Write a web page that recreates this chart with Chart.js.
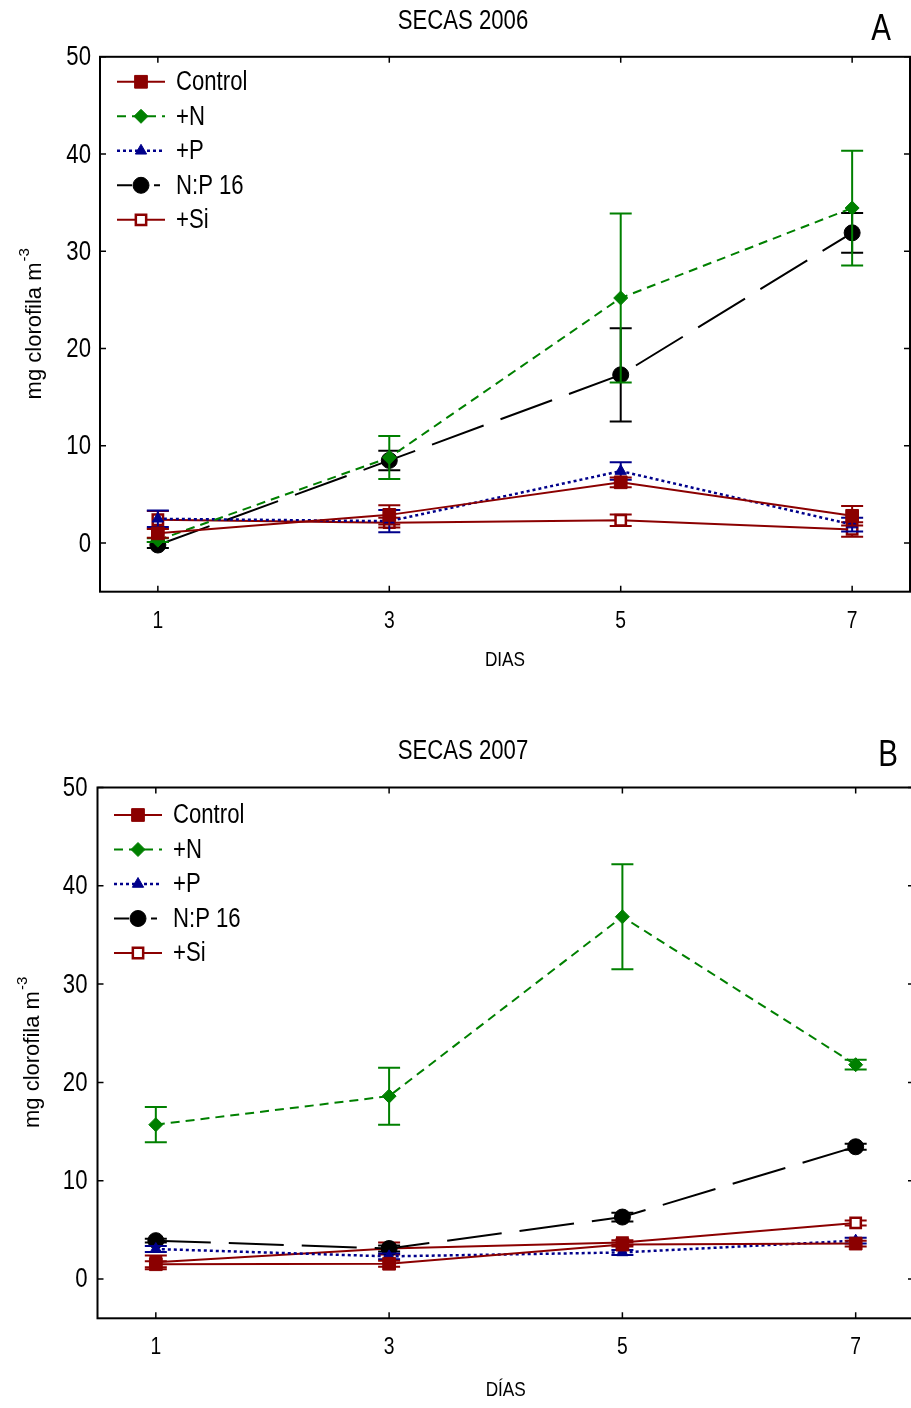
<!DOCTYPE html>
<html lang="es">
<head>
<meta charset="utf-8">
<title>Clorofila - SECAS 2006 y 2007</title>
<script src="https://cdn.jsdelivr.net/npm/chart.js@4.4.1/dist/chart.umd.min.js"></script>
<style>
  html, body { margin: 0; padding: 0; background: #fff; overflow: hidden; }
  #hoja { position: relative; width: 911px; height: 1408px; overflow: hidden; }
  #graficoA { position: absolute; left: 0; top: 0; }
  #graficoB { position: absolute; left: 0; top: 704px; }
</style>
</head>
<body>
<div id="hoja">
  <canvas id="graficoA" width="911" height="704"></canvas>
  <canvas id="graficoB" width="916" height="704"></canvas>
</div>
<script>
// Eje X (días) y eje Y (mg clorofila m-3)
const dias = [1, 3, 5, 7];
const ticksY = [0, 10, 20, 30, 40, 50];
const tratamientos = ['Control', '+N', '+P', 'N:P 16', '+Si'];

// SECAS 2006: medias y error
const control2006 = [1.0, 2.9, 6.25, 2.8];
const control2006Err = [0.45, 1.0, 0.5, 1.0];
const n2006 = [0.3, 8.8, 25.2, 34.45];
const n2006Err = [0.2, 2.2, 8.7, 5.9];
const p2006 = [2.5, 2.25, 7.4, 1.9];
const p2006Err = [0.85, 1.15, 0.9, 0.7];
const np2006 = [-0.2, 8.5, 17.3, 31.9];
const np2006Err = [0.3, 1.0, 4.8, 2.05];
const si2006 = [2.4, 2.1, 2.35, 1.4];
const si2006Err = [0.9, 0.5, 0.6, 0.75];

// SECAS 2007: medias y error
const control2007 = [1.5, 1.55, 3.5, 3.6];
const control2007Err = [0.3, 0.3, 0.2, 0.3];
const n2007 = [15.7, 18.6, 36.85, 21.8];
const n2007Err = [1.8, 2.9, 5.35, 0.5];
const p2007 = [3.05, 2.3, 2.7, 3.9];
const p2007Err = [0.3, 0.3, 0.25, 0.3];
const np2007 = [3.9, 3.1, 6.3, 13.45];
const np2007Err = [0.2, 0.3, 0.45, 0.3];
const si2007 = [1.7, 3.1, 3.7, 5.7];
const si2007Err = [0.7, 0.6, 0.25, 0.25];

const FUENTE = '"Liberation Sans", Arial, sans-serif';
const ANGOSTO = 0.82; // compresión horizontal de los textos
Chart.defaults.font.family = FUENTE;
Chart.defaults.color = '#000';

const rojo = '#8b0000';
const verde = '#008000';
const azul = '#00008b';

// estilo de cada tratamiento (línea + marcador)
const estilos = [
    { color: rojo,   dash: [],       punto: 'rect',     radio: 9,   relleno: rojo,   borde: 1,   ancho: 2 },
    { color: verde,  dash: [9, 6],   punto: 'rectRot',  radio: 7,   relleno: verde,  borde: 1,   ancho: 2 },
    { color: azul,   dash: [3, 3],   punto: 'triangle', radio: 6.5, relleno: azul,   borde: 1,   ancho: 2.5 },
    { color: '#000', dash: [55, 18], punto: 'circle',   radio: 8,   relleno: '#000', borde: 1,   ancho: 2,
      dashLeyenda: [15, 22, 6, 30] },
    { color: rojo,   dash: [],       punto: 'rect',     radio: 7.3, relleno: '#fff', borde: 2.5, ancho: 2 }
];

function crearSeries(valores, errores) {
    return tratamientos.map((nombre, i) => ({
        label: nombre,
        data: valores[i].map((v, j) => ({ x: dias[j], y: v })),
        errores: errores[i],
        borderColor: estilos[i].color,
        borderWidth: estilos[i].ancho,
        borderDash: estilos[i].dash,
        dashLeyenda: estilos[i].dashLeyenda,
        pointStyle: estilos[i].punto,
        pointRadius: estilos[i].radio,
        pointHoverRadius: estilos[i].radio,
        pointBackgroundColor: estilos[i].relleno,
        pointBorderColor: estilos[i].color,
        pointBorderWidth: estilos[i].borde,
        tension: 0,
        fill: false
    }));
}

// texto estrecho (tipo Arial Narrow) a partir de Liberation Sans
function textoAngosto(ctx, texto, x, y, tam, alinear, base) {
    ctx.save();
    ctx.fillStyle = '#000';
    ctx.font = tam + 'px ' + FUENTE;
    ctx.textAlign = alinear;
    ctx.textBaseline = base;
    ctx.translate(x, y);
    ctx.scale(ANGOSTO, 1);
    ctx.fillText(texto, 0, 0);
    ctx.restore();
}

// Barras de error con remate horizontal, debajo de los marcadores
const barrasError = {
    id: 'barrasError',
    beforeDatasetDraw(chart, args) {
        const ds = chart.data.datasets[args.index];
        if (!ds.errores) return;
        const { ctx, scales: { x, y } } = chart;
        ctx.save();
        ctx.strokeStyle = ds.borderColor;
        ctx.lineWidth = 2;
        ctx.beginPath();
        ds.data.forEach((p, i) => {
            const e = ds.errores[i];
            const px = x.getPixelForValue(p.x);
            const arriba = y.getPixelForValue(p.y + e);
            const abajo = y.getPixelForValue(p.y - e);
            ctx.moveTo(px, arriba); ctx.lineTo(px, abajo);
            ctx.moveTo(px - 11, arriba); ctx.lineTo(px + 11, arriba);
            ctx.moveTo(px - 11, abajo); ctx.lineTo(px + 11, abajo);
        });
        ctx.stroke();
        ctx.restore();
    }
};

// Marco completo con marcas hacia dentro en los cuatro lados
const marco = {
    id: 'marco',
    afterDraw(chart) {
        const { ctx, chartArea: a, scales: { x, y } } = chart;
        ctx.save();
        ctx.strokeStyle = '#000';
        ctx.lineWidth = 2;
        ctx.strokeRect(a.left, a.top, a.right - a.left, a.bottom - a.top);
        ctx.lineWidth = 1.5;
        ctx.beginPath();
        y.ticks.forEach(t => {
            const py = y.getPixelForValue(t.value);
            ctx.moveTo(a.left, py); ctx.lineTo(a.left + 6, py);
            ctx.moveTo(a.right, py); ctx.lineTo(a.right - 6, py);
        });
        x.ticks.forEach(t => {
            const px = x.getPixelForValue(t.value);
            ctx.moveTo(px, a.top); ctx.lineTo(px, a.top + 6);
            ctx.moveTo(px, a.bottom); ctx.lineTo(px, a.bottom - 6);
        });
        ctx.stroke();
        ctx.restore();
    }
};

// Leyenda dentro del área: trazo + marcador + nombre
const leyendaInterna = {
    id: 'leyendaInterna',
    afterDatasetsDraw(chart, args, opts) {
        const { ctx, chartArea: a } = chart;
        chart.data.datasets.forEach((ds, i) => {
            const cy = a.top + opts.primeraFila + i * opts.salto;
            const x0 = a.left + opts.margen;
            ctx.save();
            ctx.strokeStyle = ds.borderColor;
            ctx.lineWidth = ds.borderWidth;
            ctx.setLineDash(ds.dashLeyenda || ds.borderDash || []);
            ctx.beginPath();
            ctx.moveTo(x0, cy);
            ctx.lineTo(x0 + opts.largo, cy);
            ctx.stroke();
            ctx.setLineDash([]);
            ctx.fillStyle = ds.pointBackgroundColor;
            ctx.strokeStyle = ds.pointBorderColor;
            ctx.lineWidth = ds.pointBorderWidth;
            Chart.helpers.drawPoint(ctx, {
                pointStyle: ds.pointStyle,
                radius: ds.pointRadius,
                borderWidth: ds.pointBorderWidth,
                rotation: 0
            }, x0 + opts.largo / 2, cy);
            ctx.restore();
            textoAngosto(ctx, ds.label, x0 + opts.largo + opts.separacion, cy + 1, opts.tam, 'left', 'middle');
        });
    }
};

// Título, letra del panel, etiquetas de los ejes y título del eje Y con superíndice
const rotulos = {
    id: 'rotulos',
    afterDraw(chart, args, opts) {
        const { ctx, chartArea: a, scales: { x, y } } = chart;

        textoAngosto(ctx, opts.titulo, opts.tituloX, opts.tituloY, 27, 'center', 'middle');
        textoAngosto(ctx, opts.letra, opts.letraX, opts.letraY, 36, 'center', 'middle');

        y.ticks.forEach(t => {
            textoAngosto(ctx, String(t.value), a.left - opts.ticksYpad, y.getPixelForValue(t.value) + 1, 27, 'right', 'middle');
        });
        x.ticks.forEach(t => {
            textoAngosto(ctx, String(t.value), x.getPixelForValue(t.value), a.bottom + opts.ticksXdist, 23.5, 'center', 'middle');
        });
        textoAngosto(ctx, opts.tituloEjeX, (a.left + a.right) / 2, a.bottom + opts.tituloXdist, 21, 'center', 'middle');

        ctx.save();
        ctx.fillStyle = '#000';
        ctx.textBaseline = 'alphabetic';
        ctx.translate(opts.ejeX, (a.top + a.bottom) / 2);
        ctx.rotate(-Math.PI / 2);
        ctx.font = '22px ' + FUENTE;
        const w1 = ctx.measureText('mg clorofila m').width;
        ctx.font = '15px ' + FUENTE;
        const w2 = ctx.measureText('-3').width;
        const inicio = -(w1 + w2) / 2;
        ctx.font = '22px ' + FUENTE;
        ctx.fillText('mg clorofila m', inicio, 0);
        ctx.font = '15px ' + FUENTE;
        ctx.fillText('-3', inicio + w1 + 1, -12);
        ctx.restore();
    }
};

function crearGrafico(idCanvas, cfg) {
    const ctx = document.getElementById(idCanvas).getContext('2d');
    return new Chart(ctx, {
        type: 'line',
        data: { datasets: crearSeries(cfg.valores, cfg.errores) },
        plugins: [barrasError, marco, leyendaInterna, rotulos],
        options: {
            responsive: false,
            animation: false,
            devicePixelRatio: 1,
            layout: {
                autoPadding: false,
                padding: { left: 0, right: cfg.margenDerecho, top: cfg.margenArriba, bottom: 0 }
            },
            plugins: {
                legend: { display: false },
                tooltip: { enabled: false },
                title: { display: false },
                leyendaInterna: {
                    primeraFila: cfg.primeraFila, salto: 34.5, margen: cfg.margenLeyenda,
                    largo: 48, separacion: 11, tam: 27
                },
                rotulos: {
                    titulo: cfg.titulo, tituloX: 463, tituloY: cfg.tituloY,
                    letra: cfg.letra, letraX: cfg.letraX, letraY: cfg.letraY,
                    tituloEjeX: cfg.tituloEjeX, ticksYpad: cfg.ticksYpad,
                    ticksXdist: cfg.ticksXdist, tituloXdist: cfg.tituloXdist,
                    ejeX: cfg.tituloYx
                }
            },
            scales: {
                x: {
                    type: 'linear',
                    min: 0.5,
                    max: 7.5,
                    afterBuildTicks: s => { s.ticks = dias.map(v => ({ value: v })); },
                    afterFit: s => { s.height = cfg.altoEjeX; s.paddingLeft = 0; s.paddingRight = 0; },
                    grid: { display: false, drawTicks: false },
                    border: { display: false },
                    ticks: { display: false }
                },
                y: {
                    min: cfg.minY,
                    max: 50,
                    afterBuildTicks: s => { s.ticks = ticksY.map(v => ({ value: v })); },
                    afterFit: s => { s.width = cfg.anchoEjeY; s.paddingTop = 0; s.paddingBottom = 0; },
                    grid: { display: false, drawTicks: false },
                    border: { display: false },
                    ticks: { display: false }
                }
            }
        }
    });
}

crearGrafico('graficoA', {
    titulo: 'SECAS 2006', tituloEjeX: 'DIAS', letra: 'A',
    valores: [control2006, n2006, p2006, np2006, si2006],
    errores: [control2006Err, n2006Err, p2006Err, np2006Err, si2006Err],
    minY: -5, margenDerecho: 1, margenArriba: 56.8, anchoEjeY: 100,
    altoEjeX: 112.3, ticksXdist: 29.5, tituloXdist: 68.3, ticksYpad: 9,
    tituloY: 22, primeraFila: 25, margenLeyenda: 17,
    tituloYx: 41, letraX: 881, letraY: 30
});

crearGrafico('graficoB', {
    titulo: 'SECAS 2007', tituloEjeX: 'DÍAS', letra: 'B',
    valores: [control2007, n2007, p2007, np2007, si2007],
    errores: [control2007Err, n2007Err, p2007Err, np2007Err, si2007Err],
    minY: -4, margenDerecho: 2, margenArriba: 83.5, anchoEjeY: 97.5,
    altoEjeX: 89.7, ticksXdist: 29.7, tituloXdist: 71.7, ticksYpad: 10,
    tituloY: 48, primeraFila: 27.5, margenLeyenda: 16.5,
    tituloYx: 39, letraX: 888, letraY: 52
});
</script>
</body>
</html>
